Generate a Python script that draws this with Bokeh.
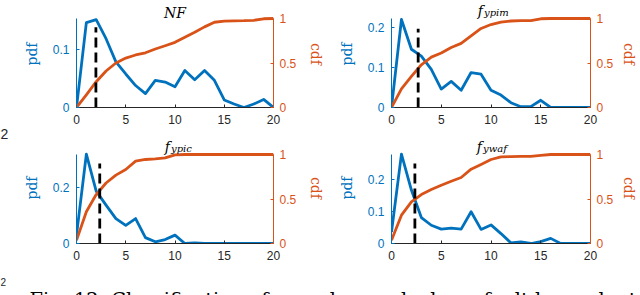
from bokeh.plotting import figure
from bokeh.models import Range1d, LinearAxis, FixedTicker, Label
from bokeh.layouts import column, row
from bokeh.embed import file_html
from bokeh.resources import INLINE

# ---------------- data ----------------
k_vals = list(range(21))

pdf_nf = [0.0, 0.147, 0.152, 0.119, 0.079, 0.058, 0.038, 0.024, 0.047, 0.044, 0.036,
          0.064, 0.048, 0.064, 0.047, 0.013, 0.006, 0.0, 0.006, 0.014, 0.0]
cdf_nf = [0.0, 0.143, 0.29, 0.41, 0.5, 0.555, 0.59, 0.615, 0.657, 0.694, 0.732,
          0.79, 0.845, 0.906, 0.958, 0.97, 0.974, 0.975, 0.98, 0.997, 1.0]

pdf_ypim = [0.0, 0.219, 0.145, 0.128, 0.095, 0.046, 0.065, 0.043, 0.087, 0.083, 0.043,
            0.031, 0.012, 0.002, 0.002, 0.018, 0.0, 0.0, 0.0, 0.0, 0.0]
cdf_ypim = [0.0, 0.21, 0.35, 0.48, 0.566, 0.612, 0.675, 0.72, 0.805, 0.888, 0.932,
            0.96, 0.972, 0.975, 0.977, 0.997, 1.0, 1.0, 1.0, 1.0, 1.0]

pdf_ypic = [0.03, 0.319, 0.187, 0.137, 0.089, 0.065, 0.089, 0.021, 0.006, 0.014, 0.03,
            0.0, 0.002, 0.0, 0.0, 0.0, 0.0, 0.0, 0.0, 0.0, 0.0]
cdf_ypic = [0.035, 0.356, 0.55, 0.68, 0.768, 0.831, 0.925, 0.944, 0.951, 0.963, 0.996,
            1.0, 1.0, 1.0, 1.0, 1.0, 1.0, 1.0, 1.0, 1.0, 1.0]

pdf_ywaf = [0.036, 0.279, 0.167, 0.081, 0.057, 0.045, 0.048, 0.045, 0.099, 0.044, 0.058,
            0.031, 0.002, 0.005, 0.0, 0.006, 0.016, 0.0, 0.0, 0.0, 0.0]
cdf_ywaf = [0.037, 0.318, 0.468, 0.55, 0.607, 0.655, 0.7, 0.742, 0.835, 0.888, 0.944,
            0.974, 0.976, 0.978, 0.98, 0.989, 1.0, 1.0, 1.0, 1.0, 1.0]

pdf_series = [pdf_nf, pdf_ypim, pdf_ypic, pdf_ywaf]
cdf_series = [cdf_nf, cdf_ypim, cdf_ypic, cdf_ywaf]

title_main = ["NF", "f", "f", "f"]
title_sub = ["", "ypim", "ypic", "ywaf"]

threshold_x = [1.97, 2.68, 2.36, 2.35]
threshold_top = [0.139, 0.196, 0.286, 0.25]

pdf_ymax = [0.154, 0.2215, 0.318, 0.278]
pdf_ticks = [[0, 0.1], [0, 0.1, 0.2], [0, 0.2], [0, 0.1, 0.2]]
pdf_tick_labels = [["0", "0.1"], ["0", "0.1", "0.2"], ["0", "0.2"], ["0", "0.1", "0.2"]]
cdf_max = 1
cdf_ticks = [0, 0.5, 1]
cdf_tick_labels = ["0", "0.5", "1"]
x_max = 20
x_ticks = [0, 5, 10, 15, 20]
x_tick_labels = ["0", "5", "10", "15", "20"]

caption_text = "Fig. 12: Classification of an unknown leakage fault by evaluat-"
stray_text = "2"

# ---------------- style ----------------
BLUE = "#0072BD"
ORANGE = "#D95319"
DARK = "#262626"
SANS = "Liberation Sans"
SERIF = "DejaVu Serif"
AXIS_PX = 89  # pixel height of the plotted (axis) area
title_shift = [0, -8, -5, -9]  # px offset of the subscript join from panel centre


def style_axis(ax, color, ticks, labels):
    ax.ticker = FixedTicker(ticks=ticks)
    ax.major_label_overrides = {t: l for t, l in zip(ticks, labels)}
    ax.major_tick_in = 3
    ax.major_tick_out = 0
    ax.minor_tick_in = 0
    ax.minor_tick_out = 0
    ax.axis_line_color = color
    ax.axis_line_width = 1
    ax.major_tick_line_color = color
    ax.major_label_text_color = color
    ax.major_label_text_font = SANS
    ax.major_label_text_font_size = "12px"
    ax.major_label_standoff = 7
    ax.axis_label_text_font = SERIF
    ax.axis_label_text_font_size = "14px"
    ax.axis_label_text_font_style = "normal"
    ax.axis_label_text_color = color


def make_panel(i, width, height, left, right, bottom, f_base, sub_base, r_standoff):
    fh = height - bottom          # frame height (frame starts at the figure top)
    stretch = fh / AXIS_PX        # room above the axes for the title
    p = figure(width=width, height=height,
               x_range=Range1d(0, x_max), y_range=Range1d(0, pdf_ymax[i] * stretch),
               output_backend="svg", toolbar_location=None, title=None,
               min_border_left=left, min_border_right=right,
               min_border_top=0, min_border_bottom=bottom)
    p.extra_y_ranges = {"cdf": Range1d(0, cdf_max * stretch)}
    p.grid.visible = False
    p.outline_line_color = None
    p.background_fill_color = "white"
    p.border_fill_color = "white"

    style_axis(p.xaxis[0], DARK, x_ticks, x_tick_labels)
    p.xaxis[0].major_label_standoff = 7

    ly = p.yaxis[0]
    style_axis(ly, BLUE, pdf_ticks[i], pdf_tick_labels[i])
    ly.bounds = (0, pdf_ymax[i])
    ly.axis_label = "pdf"
    ly.axis_label_standoff = 10

    rax = LinearAxis(y_range_name="cdf")
    style_axis(rax, ORANGE, cdf_ticks, cdf_tick_labels)
    rax.bounds = (0, cdf_max)
    rax.axis_label = "cdf"
    rax.axis_label_standoff = r_standoff
    rax.major_label_standoff = 6
    p.add_layout(rax, "right")

    p.line(k_vals, pdf_series[i], line_color=BLUE, line_width=2.8, line_join="round")
    p.line(k_vals, cdf_series[i], line_color=ORANGE, line_width=2.8, line_join="round",
           y_range_name="cdf")
    p.line([threshold_x[i], threshold_x[i]], [0, threshold_top[i]], line_color="black",
           line_width=2.8, line_dash="10 5")

    if title_sub[i]:
        p.add_layout(Label(x=x_max / 2, y=fh - f_base, x_units="data", y_units="screen",
                           x_offset=title_shift[i], text=title_main[i], text_align="right",
                           text_baseline="alphabetic", text_font=SERIF,
                           text_font_style="italic", text_font_size="14px",
                           text_color="black"))
        p.add_layout(Label(x=x_max / 2, y=fh - sub_base, x_units="data", y_units="screen",
                           x_offset=title_shift[i] + 1, text=title_sub[i], text_align="left",
                           text_baseline="alphabetic", text_font=SERIF,
                           text_font_style="italic", text_font_size="10px",
                           text_color="black"))
    else:
        p.add_layout(Label(x=x_max / 2, y=fh - sub_base, x_units="data", y_units="screen",
                           text=title_main[i], text_align="center",
                           text_baseline="alphabetic", text_font=SERIF,
                           text_font_style="italic", text_font_size="14px",
                           text_color="black"))
    return p


p1 = make_panel(0, 317, 132, 66, 48, 25, 10.8, 12.3, 9)
p2 = make_panel(1, 313, 132, 64, 46, 25, 10.8, 12.3, 5)
p3 = make_panel(2, 317, 136, 66, 48, 25, 14.8, 16.3, 9)
p4 = make_panel(3, 313, 136, 64, 46, 25, 14.8, 16.3, 5)


def blank(width, height):
    b = figure(width=width, height=height, x_range=Range1d(0, 1), y_range=Range1d(0, 1),
               output_backend="svg", toolbar_location=None, title=None,
               x_axis_type=None, y_axis_type=None, min_border=0)
    b.grid.visible = False
    b.outline_line_color = None
    b.background_fill_color = "white"
    b.border_fill_color = "white"
    return b


strip = blank(10, 268)
strip.add_layout(Label(x=0, y=135, x_units="screen", y_units="screen", text=stray_text,
                       text_font=SANS, text_font_size="14px", text_color=DARK,
                       text_baseline="alphabetic"))

cap = blank(640, 27)
cap.add_layout(Label(x=29, y=-3.8, x_units="screen", y_units="screen", text=caption_text,
                     text_font=SERIF, text_font_size="19.4px", text_color="black",
                     text_baseline="alphabetic"))
cap.add_layout(Label(x=0, y=14, x_units="screen", y_units="screen", text=stray_text,
                     text_font=SANS, text_font_size="10px", text_color=DARK,
                     text_baseline="alphabetic"))

layout = column(row(strip, column(row(p1, p2), row(p3, p4))), cap)

open("out.html", "w").write(file_html(layout, INLINE))
